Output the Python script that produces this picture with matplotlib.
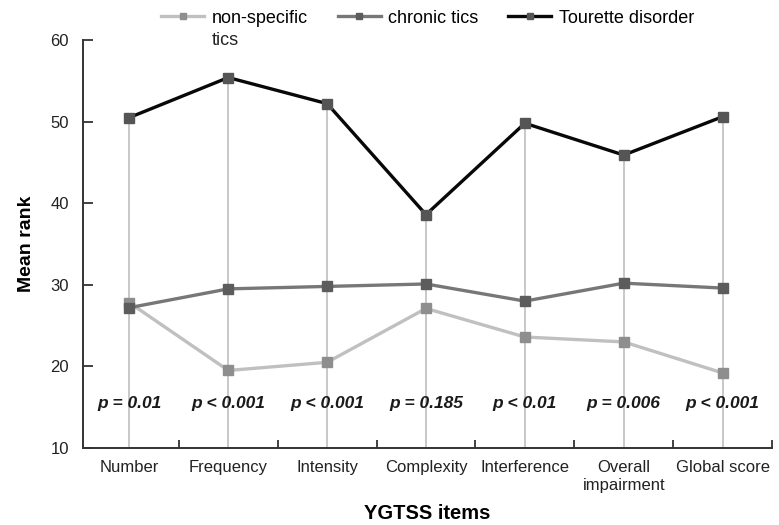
import matplotlib
matplotlib.use("Agg")
import matplotlib.pyplot as plt
import numpy as np

plt.rcParams['font.family'] = ['Liberation Sans', 'DejaVu Sans']

categories = ["Number", "Frequency", "Intensity", "Complexity", "Interference",
              "Overall\nimpairment", "Global score"]
non_specific = [27.8, 19.5, 20.5, 27.1, 23.6, 23.0, 19.2]
chronic = [27.2, 29.5, 29.8, 30.1, 28.0, 30.2, 29.6]
tourette = [50.5, 55.4, 52.2, 38.6, 49.8, 45.9, 50.6]
p_values = ["p = 0.01", "p < 0.001", "p < 0.001", "p = 0.185", "p < 0.01",
            "p = 0.006", "p < 0.001"]
series_names = ["non-specific", "chronic tics", "Tourette disorder"]
series_name_wrap = "tics"

fig = plt.figure(figsize=(7.79, 5.25), dpi=100)
ax = fig.add_axes([0.1065, 0.1467, 0.8845, 0.7771])

x = np.arange(len(categories))
ax.vlines(x, 10, tourette, color="#c8c8c8", lw=1.4, zorder=1)

ax.plot(x, non_specific, color="#c0c0c0", lw=2.4, marker="s", ms=6.5,
        mfc="#8e8e8e", mec="#8e8e8e", label=series_names[0], zorder=3)
ax.plot(x, chronic, color="#777777", lw=2.4, marker="s", ms=6.5,
        mfc="#5c5c5c", mec="#5c5c5c", label=series_names[1], zorder=3)
ax.plot(x, tourette, color="#080808", lw=2.4, marker="s", ms=6.5,
        mfc="#555555", mec="#555555", label=series_names[2], zorder=3)

for xi, p in zip(x, p_values):
    ax.text(xi, 15.4, p, ha="center", va="center", fontsize=12.5,
            style="italic", fontweight="bold", color="#1a1a1a")

ax.set_xlim(-0.47, 6.5)
ax.set_ylim(10, 60)
ax.set_yticks([10, 20, 30, 40, 50, 60])
ax.set_xticks(x)
ax.set_xticklabels(categories, fontsize=12, color="#222222", va="top")
ax.set_xticks(np.arange(0.5, 7.0, 1.0), minor=True)
ax.tick_params(axis="x", which="major", length=0, pad=9)
ax.tick_params(axis="x", which="minor", direction="in", length=6, width=1.3,
               color="#333333")
ax.tick_params(axis="y", direction="in", length=7, width=1.3, color="#333333",
               labelsize=12, labelcolor="#222222", pad=10)

for s in ["top", "right"]:
    ax.spines[s].set_visible(False)
for s in ["left", "bottom"]:
    ax.spines[s].set_color("#333333")
    ax.spines[s].set_linewidth(1.4)

ax.set_ylabel("Mean rank", fontsize=14, fontweight="bold", labelpad=11)
ax.set_xlabel("YGTSS items", fontsize=14.5, fontweight="bold", labelpad=8)

leg = ax.legend(loc="center", bbox_to_anchor=(0.5, 1.0 + 22 / 408), ncol=3,
                frameon=False, fontsize=13, handlelength=2.4,
                handletextpad=0.4, columnspacing=1.65, borderpad=0,
                markerscale=0.75)

fig.canvas.draw()
bb = leg.get_texts()[0].get_window_extent()
fx, fy = fig.transFigure.inverted().transform((bb.x0, bb.y0))
fig.text(fx, fy - 5 / 525, series_name_wrap, ha="left", va="top",
         fontsize=13, color="#222222")

fig.savefig("out.png", dpi=100)
